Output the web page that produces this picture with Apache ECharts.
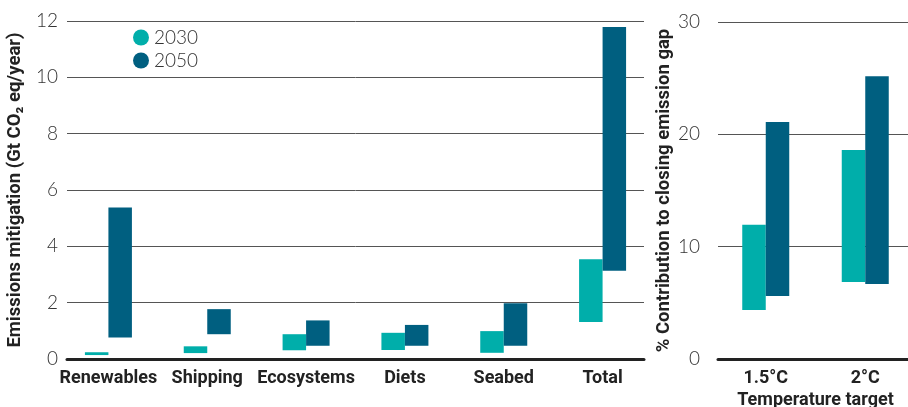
<!DOCTYPE html>
<html>
<head>
<meta charset="utf-8">
<script src="https://cdn.jsdelivr.net/npm/echarts@6/dist/echarts.min.js"></script>
<style>
  html, body { margin: 0; padding: 0; background: #fff; }
  #main { width: 908px; height: 407px; }
</style>
</head>
<body>
<div id="main"></div>
<script>
// left panel: emissions mitigation ranges (Gt CO2 eq/year)
var categories = ['Renewables', 'Shipping', 'Ecosystems', 'Diets', 'Seabed', 'Total'];
var low2030 = [0.14, 0.21, 0.31, 0.32, 0.22, 1.31];
var high2030 = [0.24, 0.45, 0.88, 0.93, 0.99, 3.54];
var low2050 = [0.76, 0.88, 0.47, 0.47, 0.47, 3.13];
var high2050 = [5.38, 1.77, 1.37, 1.21, 1.98, 11.79];
var mitigationTicks = [0, 12, 2]; // min, max, interval

// right panel: % contribution to closing emission gap
var targets = ['1.5°C', '2°C'];
var gapLow2030 = [4.36, 6.86];
var gapHigh2030 = [11.96, 18.6];
var gapLow2050 = [5.61, 6.68];
var gapHigh2050 = [21.1, 25.17];
var gapTicks = [0, 30, 10];

var c2030 = '#00aeaa';
var c2050 = '#005f80';
var boldFont = "Roboto, 'DejaVu Sans Condensed', sans-serif";
var lightFont = "Lato, Roboto, sans-serif";

function diff(hi, lo) {
  return hi.map(function (v, i) { return +(v - lo[i]).toFixed(2); });
}

var chart = echarts.init(document.getElementById('main'));

var tickLabel = { fontFamily: lightFont, fontWeight: 300, fontSize: 19, color: '#333' };
var gridLine = { show: true, lineStyle: { color: '#555', width: 1 } };
var baseLine = { show: true, onZero: false, lineStyle: { color: '#222', width: 3 } };
var catLabel = { margin: 10, interval: 0, fontFamily: boldFont, fontWeight: 'bold', fontSize: 18, color: '#222' };
var axisName = { fontFamily: boldFont, fontWeight: 'bold', fontSize: 18.5, color: '#222' };

function rangeSeries(name, lo, hi, color, idx, stack) {
  return [{
    type: 'bar', stack: stack, xAxisIndex: idx, yAxisIndex: idx,
    barWidth: 23.5, barGap: '0%', silent: true,
    itemStyle: { color: 'transparent' },
    data: lo
  }, {
    name: name, type: 'bar', stack: stack, xAxisIndex: idx, yAxisIndex: idx,
    barWidth: 23.5, barGap: '0%',
    itemStyle: { color: color },
    data: diff(hi, lo)
  }];
}

var option = {
  animation: false,
  legend: {
    orient: 'vertical', left: 128, top: 23,
    icon: 'circle', itemWidth: 16, itemHeight: 16, itemGap: 4,
    data: ['2030', '2050'],
    textStyle: { fontFamily: lightFont, fontWeight: 300, fontSize: 19, color: '#333' }
  },
  grid: [
    { left: 67, right: 264, top: 21, bottom: 48, outerBoundsMode: 'none' },   // left frame
    { left: 59, right: 256, top: 21, bottom: 48, outerBoundsMode: 'none' },   // left bars
    { left: 718, right: 0, top: 22, bottom: 48, outerBoundsMode: 'none' },    // right frame
    { left: 716, width: 199, top: 22, bottom: 48, outerBoundsMode: 'none' }   // right bars
  ],
  xAxis: [
    { type: 'value', gridIndex: 0, min: 0, max: 1, axisLine: baseLine,
      axisTick: { show: false }, axisLabel: { show: false }, splitLine: { show: false } },
    { type: 'category', gridIndex: 1, data: categories,
      axisLine: { show: false }, axisTick: { show: false }, axisLabel: catLabel },
    { type: 'value', gridIndex: 2, min: 0, max: 1, axisLine: baseLine,
      axisTick: { show: false }, axisLabel: { show: false }, splitLine: { show: false } },
    { type: 'category', gridIndex: 3, data: targets,
      axisLine: { show: false }, axisTick: { show: false }, axisLabel: catLabel,
      name: 'Temperature target', nameLocation: 'middle', nameGap: 26,
      nameTextStyle: { fontFamily: boldFont, fontWeight: 'bold', fontSize: 18, color: '#222' } }
  ],
  yAxis: [
    { type: 'value', gridIndex: 0, min: mitigationTicks[0], max: mitigationTicks[1], interval: mitigationTicks[2],
      axisLine: { show: false }, axisTick: { show: false },
      axisLabel: Object.assign({ margin: 9 }, tickLabel), splitLine: gridLine,
      name: 'Emissions mitigation (Gt CO₂ eq/year)', nameLocation: 'middle', nameGap: 35,
      nameTextStyle: axisName },
    { type: 'value', gridIndex: 1, min: mitigationTicks[0], max: mitigationTicks[1], show: false },
    { type: 'value', gridIndex: 2, min: gapTicks[0], max: gapTicks[1], interval: gapTicks[2],
      axisLine: { show: false }, axisTick: { show: false },
      axisLabel: Object.assign({ margin: 18 }, tickLabel), splitLine: gridLine,
      name: '% Contribution to closing emission gap', nameLocation: 'middle', nameGap: 39,
      nameTextStyle: axisName },
    { type: 'value', gridIndex: 3, min: gapTicks[0], max: gapTicks[1], show: false }
  ],
  series: [].concat(
    rangeSeries('2030', low2030, high2030, c2030, 1, 'a30'),
    rangeSeries('2050', low2050, high2050, c2050, 1, 'a50'),
    rangeSeries('2030', gapLow2030, gapHigh2030, c2030, 3, 'b30'),
    rangeSeries('2050', gapLow2050, gapHigh2050, c2050, 3, 'b50')
  )
};

chart.setOption(option);
</script>
</body>
</html>
